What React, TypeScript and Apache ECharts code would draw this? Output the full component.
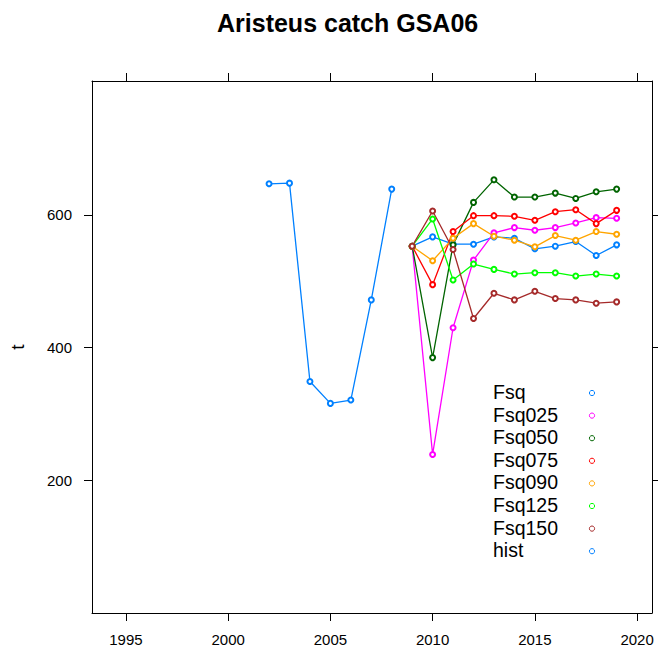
import React, { useEffect, useRef } from "react";
import * as echarts from "echarts";

const histYears = [2002, 2003, 2004, 2005, 2006, 2007, 2008];
const histValues = [647, 648, 349, 316, 321, 472, 639];

const projYears = [2009, 2010, 2011, 2012, 2013, 2014, 2015, 2016, 2017, 2018, 2019];
const fsq = [553, 567, 556, 556, 567, 565, 549, 553, 560, 539, 555];
const fsq025 = [553, 239, 430, 532, 573, 581, 577, 581, 588, 596, 595];
const fsq050 = [553, 385, 555, 619, 653, 627, 627, 633, 625, 635, 639];
const fsq075 = [553, 495, 575, 599, 599, 598, 592, 605, 608, 587, 607];
const fsq090 = [553, 531, 565, 587, 568, 562, 552, 569, 562, 575, 571];
const fsq125 = [553, 594, 502, 526, 518, 511, 513, 513, 508, 511, 508];
const fsq150 = [553, 606, 548, 444, 482, 472, 485, 474, 472, 467, 469];

const seriesNames = ["Fsq", "Fsq025", "Fsq050", "Fsq075", "Fsq090", "Fsq125", "Fsq150", "hist"];
const seriesColors = ["#0080ff", "#ff00ff", "#006400", "#ff0000", "#ffa500", "#00ff00", "#a52a2a", "#0080ff"];

const xTicks = [1995, 2000, 2005, 2010, 2015, 2020];
const yTicks = [200, 400, 600];

const FONT = "Liberation Sans, Arial, sans-serif";

export default function App() {
  const ref = useRef<HTMLDivElement>(null);
  useEffect(() => {
    if (!ref.current) return;
    const chart = echarts.init(ref.current, null, { renderer: "svg" });
    const projSets = [fsq, fsq025, fsq050, fsq075, fsq090, fsq125, fsq150];
    const series: any[] = projSets.map((vals, i) => ({
      name: seriesNames[i],
      type: "line",
      data: projYears.map((y, j) => [y, vals[j]]),
      symbol: "emptyCircle",
      symbolSize: 5,
      lineStyle: { color: seriesColors[i], width: 1.3 },
      itemStyle: { color: seriesColors[i], borderColor: seriesColors[i], borderWidth: 1 },
    }));
    series.push({
      name: "hist",
      type: "line",
      data: histYears.map((y, j) => [y, histValues[j]]),
      symbol: "emptyCircle",
      symbolSize: 5,
      lineStyle: { color: seriesColors[7], width: 1.3 },
      itemStyle: { color: seriesColors[7], borderColor: seriesColors[7], borderWidth: 1 },
    });

    const legendTop = 393;
    const legendGap = 22.6;
    const graphics: any[] = [];
    seriesNames.forEach((n, i) => {
      graphics.push({
        type: "text",
        left: 493,
        top: legendTop + i * legendGap - 11,
        style: { text: n, fontSize: 19.5, fontFamily: FONT, fill: "#000" },
      });
      graphics.push({
        type: "circle",
        shape: { cx: 592, cy: legendTop + i * legendGap, r: 2.6 },
        style: { fill: "none", stroke: seriesColors[i], lineWidth: 1 },
      });
    });

    const tickStyle = { show: true, length: 8, lineStyle: { color: "#000", width: 1 } };
    const lineStyle = { show: true, onZero: false, lineStyle: { color: "#000", width: 1 } };
    const fmt = (v: number) => String(v);

    chart.setOption({
      animation: false,
      backgroundColor: "#fff",
      title: {
        text: "Aristeus catch GSA06",
        left: 212,
        top: 5,
        textStyle: { fontSize: 25, fontWeight: "bold", color: "#000", fontFamily: FONT },
      },
      grid: { left: 92, top: 81, right: 6, bottom: 41, outerBoundsMode: "none", containLabel: false },
      xAxis: [
        {
          type: "value",
          position: "bottom",
          min: 1993.34,
          max: 2020.73,
          splitLine: { show: false },
          axisLine: lineStyle,
          axisTick: { ...tickStyle, customValues: xTicks },
          axisLabel: { customValues: xTicks, formatter: fmt, margin: 19, fontSize: 15, color: "#000", fontFamily: FONT },
        },
        {
          type: "value",
          position: "top",
          min: 1993.34,
          max: 2020.73,
          splitLine: { show: false },
          axisLine: lineStyle,
          axisTick: { ...tickStyle, customValues: xTicks },
          axisLabel: { show: false },
        },
      ],
      yAxis: [
        {
          type: "value",
          position: "left",
          min: 0,
          max: 802,
          name: "t",
          nameLocation: "middle",
          nameGap: 65,
          nameRotate: 90,
          nameTextStyle: { fontSize: 19, color: "#000", fontFamily: FONT },
          splitLine: { show: false },
          axisLine: lineStyle,
          axisTick: { ...tickStyle, customValues: yTicks },
          axisLabel: { customValues: yTicks, formatter: fmt, margin: 20, fontSize: 15, color: "#000", fontFamily: FONT },
        },
        {
          type: "value",
          position: "right",
          min: 0,
          max: 802,
          splitLine: { show: false },
          axisLine: lineStyle,
          axisTick: { ...tickStyle, customValues: yTicks },
          axisLabel: { show: false },
        },
      ],
      series,
      graphic: graphics,
    });
    return () => chart.dispose();
  }, []);
  return <div ref={ref} style={{ position: "fixed", left: 0, top: 0, width: 658, height: 654 }} />;
}
